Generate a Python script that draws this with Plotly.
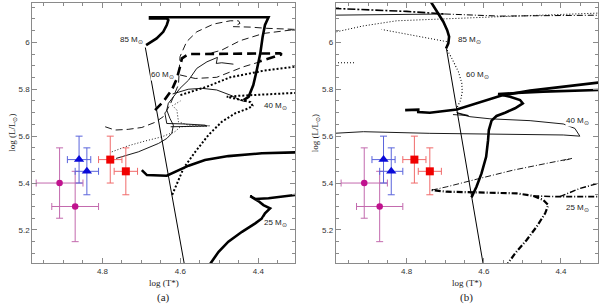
import plotly.graph_objects as go

# ---------------- observed stars ----------------
circ_T = [4.91, 4.87]
circ_L = [5.40, 5.30]
circ_dT = [0.06, 0.06]
circ_dL = [0.15, 0.15]

tri_T = [4.86, 4.84]
tri_L = [5.50, 5.45]
tri_dT = [0.03, 0.03]
tri_dL = [0.10, 0.10]

sq_T = [4.78, 4.74]
sq_L = [5.50, 5.45]
sq_dT = [0.03, 0.03]
sq_dL = [0.10, 0.10]

# ---------------- panel (a) tracks ----------------
a_zams_T = [4.690, 4.583]
a_zams_L = [5.978, 4.990]

a85_T = [4.688, 4.661, 4.644, 4.635, 4.631, 4.635, 4.678, 4.678, 4.374, 4.383, 4.389, 4.395, 4.404, 4.413, 4.425, 4.438]
a85_L = [5.988, 6.017, 6.045, 6.074, 6.095, 6.102, 6.102, 6.107, 6.107, 6.074, 6.024, 5.953, 5.882, 5.818, 5.768, 5.754]

a60_T = [4.665, 4.644, 4.622, 4.609, 4.601, 4.596, 4.579, 4.344, 4.340, 4.378, 4.400]
a60_L = [5.711, 5.747, 5.797, 5.846, 5.896, 5.932, 5.950, 5.953, 5.949, 5.927, 5.917]

a40_T = [4.621, 4.592, 4.562, 4.528, 4.494, 4.460, 4.425, 4.415, 4.420, 4.434, 4.464, 4.481, 4.450, 4.400, 4.350, 4.300]
a40_L = [5.350, 5.463, 5.533, 5.605, 5.661, 5.697, 5.719, 5.730, 5.745, 5.750, 5.761, 5.768, 5.772, 5.777, 5.782, 5.785]

a40b_T = [4.600, 4.558, 4.532, 4.472, 4.387, 4.300]
a40b_L = [5.775, 5.797, 5.811, 5.851, 5.879, 5.897]

a25_T = [4.699, 4.686, 4.635, 4.614, 4.579, 4.537, 4.477, 4.391, 4.300]
a25_L = [5.455, 5.434, 5.431, 5.446, 5.474, 5.498, 5.515, 5.527, 5.531]

a25b_T = [4.530, 4.502, 4.477, 4.442, 4.408, 4.391, 4.383, 4.370, 4.387, 4.400, 4.421, 4.408, 4.374, 4.300]
a25b_L = [5.040, 5.107, 5.150, 5.192, 5.228, 5.249, 5.271, 5.292, 5.306, 5.323, 5.344, 5.332, 5.335, 5.350]

a_dash1_T = [4.793, 4.768, 4.734, 4.699, 4.665, 4.644, 4.625, 4.605, 4.601, 4.584, 4.558, 4.515, 4.472, 4.451, 4.447, 4.464, 4.420, 4.380, 4.300]
a_dash1_L = [5.640, 5.626, 5.629, 5.637, 5.659, 5.683, 5.740, 5.820, 5.939, 6.003, 6.045, 6.078, 6.092, 6.092, 6.081, 6.067, 6.065, 6.060, 6.055]

a_dash2_T = [4.520, 4.494, 4.447, 4.387, 4.300]
a_dash2_L = [5.955, 5.967, 6.007, 6.038, 6.056]

a_dash3_T = [4.601, 4.562, 4.507, 4.472, 4.438, 4.400]
a_dash3_L = [5.861, 5.846, 5.851, 5.875, 5.896, 5.915]

a_thin1_T = [4.765, 4.708, 4.656, 4.635, 4.622, 4.618, 4.627, 4.635, 4.631, 4.601, 4.579, 4.558, 4.532, 4.511, 4.505, 4.508, 4.494, 4.464]
a_thin1_L = [5.505, 5.533, 5.569, 5.590, 5.612, 5.647, 5.676, 5.711, 5.740, 5.804, 5.839, 5.889, 5.917, 5.932, 5.936, 5.910, 5.913, 5.907]

a_thin2_T = [4.620, 4.580, 4.545, 4.507, 4.472, 4.447, 4.434]
a_thin2_L = [5.780, 5.800, 5.804, 5.797, 5.775, 5.754, 5.747]

a_thin3_T = [4.640, 4.635, 4.590, 4.537, 4.532, 4.580, 4.625]
a_thin3_L = [5.700, 5.654, 5.652, 5.647, 5.643, 5.640, 5.640]

a_dot1_T = [4.776, 4.734, 4.691, 4.648, 4.614, 4.600, 4.524, 4.580, 4.605, 4.609, 4.620, 4.600]
a_dot1_L = [5.533, 5.559, 5.579, 5.597, 5.619, 5.640, 5.644, 5.647, 5.661, 5.711, 5.730, 5.750]

# ---------------- panel (b) tracks ----------------
b_zams_T = [4.697, 4.595]
b_zams_L = [5.974, 4.990]

b85_T = [4.698, 4.692, 4.690, 4.695, 4.705, 4.718, 4.731, 4.740]
b85_L = [5.974, 5.996, 6.024, 6.052, 6.088, 6.124, 6.155, 6.180]

b60_T = [4.695, 4.683, 4.666, 4.657, 4.656, 4.660, 4.670]
b60_L = [5.967, 5.932, 5.875, 5.825, 5.789, 5.754, 5.719]

b_topdot_T = [4.982, 4.913, 4.826, 4.696, 4.567, 4.300]
b_topdot_L = [6.045, 6.070, 6.092, 6.102, 6.109, 6.125]

b_vdot_T = [4.696, 4.780, 4.865]
b_vdot_L = [6.003, 6.030, 6.055]

b_topdd_T = [4.990, 4.900, 4.800, 4.701]
b_topdd_L = [6.145, 6.140, 6.132, 6.121]

b_topsolid_T = [4.990, 4.850, 4.701]
b_topsolid_L = [6.116, 6.118, 6.121]

b_topdd2_T = [4.701, 4.558, 4.300]
b_topdd2_L = [6.121, 6.112, 6.116]

b_shortdot_T = [4.978, 4.935]
b_shortdot_L = [5.913, 5.913]

b40_T = [4.632, 4.619, 4.606, 4.594, 4.589, 4.587, 4.580, 4.567, 4.545, 4.519, 4.499, 4.506, 4.532, 4.563, 4.515, 4.446, 4.300]
b40_L = [5.339, 5.384, 5.441, 5.512, 5.583, 5.626, 5.666, 5.686, 5.700, 5.719, 5.740, 5.754, 5.768, 5.780, 5.784, 5.790, 5.797]

b40u_T = [4.804, 4.770, 4.770, 4.740, 4.670, 4.593, 4.550, 4.480, 4.394, 4.300]
b40u_L = [5.711, 5.713, 5.703, 5.700, 5.714, 5.754, 5.775, 5.794, 5.811, 5.829]

b40thin_T = [4.990, 4.912, 4.740, 4.567, 4.394, 4.351, 4.364, 4.394, 4.480, 4.584, 4.636, 4.653, 4.670, 4.640, 4.680]
b40thin_L = [5.612, 5.619, 5.612, 5.609, 5.605, 5.600, 5.633, 5.652, 5.666, 5.674, 5.683, 5.690, 5.700, 5.688, 5.692]

b25_T = [4.545, 4.519, 4.489, 4.463, 4.441, 4.433, 4.446, 4.472, 4.515, 4.610, 4.696, 4.735]
b25_L = [5.040, 5.100, 5.157, 5.214, 5.271, 5.306, 5.328, 5.345, 5.356, 5.359, 5.363, 5.370]

b25thin_T = [4.735, 4.696, 4.610, 4.524, 4.437, 4.372, 4.394]
b25thin_L = [5.370, 5.384, 5.420, 5.455, 5.484, 5.505, 5.495]

b25r_T = [4.472, 4.410, 4.300]
b25r_L = [5.345, 5.342, 5.342]

b25r2_T = [4.403, 4.351, 4.300]
b25r2_L = [5.342, 5.377, 5.400]

# mass labels
a_lab_T = [4.726, 4.647, 4.357, 4.357]
a_lab_L = [6.010, 5.861, 5.728, 5.229]
b_lab_T = [4.636, 4.616, 4.356, 4.356]
b_lab_L = [6.010, 5.860, 5.666, 5.292]
lab_txt = ["85 M<sub>⊙</sub>", "60 M<sub>⊙</sub>", "40 M<sub>⊙</sub>", "25 M<sub>⊙</sub>"]

y_ticks = [5.2, 5.4, 5.6, 5.8, 6.0]
y_ticktext = ["5.2", "5.4", "5.6", "5.8", "6"]
x_ticks = [4.8, 4.6, 4.4]
x_ticktext = ["4.8", "4.6", "4.4"]

fig = go.Figure()

THICK = 2.6
THIN = 0.9


def line(ax, T, L, w, dash="solid"):
    xa, ya = ("x", "y") if ax == "a" else ("x2", "y2")
    fig.add_trace(go.Scatter(x=T, y=L, mode="lines", xaxis=xa, yaxis=ya,
                             line=dict(color="black", width=w, dash=dash),
                             hoverinfo="skip", showlegend=False))


# panel a
line("a", a_zams_T, a_zams_L, 1.0)
line("a", a85_T, a85_L, THICK)
line("a", a60_T, a60_L, THICK, "9px,5px")
line("a", a40_T, a40_L, 2.0, "2px,2px")
line("a", a40b_T, a40b_L, 2.0, "2px,2px")
line("a", a25_T, a25_L, THICK)
line("a", a25b_T, a25b_L, THICK)
line("a", a_dash1_T, a_dash1_L, THIN, "7px,4px")
line("a", a_dash2_T, a_dash2_L, THIN, "7px,4px")
line("a", a_dash3_T, a_dash3_L, THIN, "7px,4px")
line("a", a_thin1_T, a_thin1_L, THIN)
line("a", a_thin2_T, a_thin2_L, THIN)
line("a", a_thin3_T, a_thin3_L, THIN)
line("a", a_dot1_T, a_dot1_L, THIN, "1px,2px")

# panel b
line("b", b_zams_T, b_zams_L, 1.0)
line("b", b85_T, b85_L, THICK)
line("b", b60_T, b60_L, 1.1, "1px,2px")
line("b", b_topdot_T, b_topdot_L, 1.0, "1px,2px")
line("b", b_vdot_T, b_vdot_L, 1.0, "1px,2px")
line("b", b_topdd_T, b_topdd_L, 1.6, "8px,2px,2px,2px")
line("b", b_topsolid_T, b_topsolid_L, THIN)
line("b", b_topdd2_T, b_topdd2_L, 1.0, "6px,2px,1px,2px")
line("b", b_shortdot_T, b_shortdot_L, 1.0, "1px,2px")
line("b", b40_T, b40_L, THICK)
line("b", b40u_T, b40u_L, THICK)
line("b", b40thin_T, b40thin_L, THIN)
line("b", b25_T, b25_L, 2.2, "6px,2px,1px,2px")
line("b", b25thin_T, b25thin_L, 0.9, "6px,2px,1px,2px")
line("b", b25r_T, b25r_L, 1.6, "6px,2px,1px,2px")
line("b", b25r2_T, b25r2_L, 1.4, "6px,2px,1px,2px")


def obs(ax, T, L, dT, dL, sym, size, col, ecol):
    xa, ya = ("x", "y") if ax == "a" else ("x2", "y2")
    fig.add_trace(go.Scatter(
        x=T, y=L, mode="markers", xaxis=xa, yaxis=ya,
        marker=dict(symbol=sym, size=size, color=col, line=dict(width=0)),
        error_x=dict(type="data", array=dT, color=ecol, thickness=1, width=3.5),
        error_y=dict(type="data", array=dL, color=ecol, thickness=1, width=3.5),
        hoverinfo="skip", showlegend=False, cliponaxis=False))


for ax in ("a", "b"):
    obs(ax, circ_T, circ_L, circ_dT, circ_dL, "circle", 6.5, "#c0128e", "#c36aae")
    obs(ax, tri_T, tri_L, tri_dT, tri_dL, "triangle-up", 9, "#0a0ad8", "#5a64dc")
    obs(ax, sq_T, sq_L, sq_dT, sq_dL, "square", 8, "#f00000", "#f06a6a")

LABFONT = dict(family="Liberation Sans", size=8, color="#222")
ann = []
for T, L, t in zip(a_lab_T, a_lab_L, lab_txt):
    ann.append(dict(x=T, y=L, xref="x", yref="y", text=t, showarrow=False,
                    xanchor="center", yanchor="middle",
                    font=LABFONT, bgcolor="white", borderpad=0))
for T, L, t in zip(b_lab_T, b_lab_L, lab_txt):
    ann.append(dict(x=T, y=L, xref="x2", yref="y2", text=t, showarrow=False,
                    xanchor="center", yanchor="middle",
                    font=LABFONT, bgcolor="white", borderpad=0))

W, H = 600, 307
ax_a = (32.3, 295.0)
ax_b = (335.7, 598.0)
top_px, bot_px = 2.5, 263.0

for (x0, x1), lab in ((ax_a, "(a)"), (ax_b, "(b)")):
    xc = (x0 + x1) / 2 / W
    ann.append(dict(x=xc, y=1 - 282.5 / H, xref="paper", yref="paper", text="log (T*)",
                    showarrow=False, xanchor="center", yanchor="middle",
                    font=dict(family="Liberation Serif", size=9, color="#222")))
    ann.append(dict(x=xc, y=1 - 297 / H, xref="paper", yref="paper", text=lab,
                    showarrow=False, xanchor="center", yanchor="middle",
                    font=dict(family="Liberation Serif", size=11, color="#222")))
    ann.append(dict(x=(x0 - 20.5) / W, y=1 - 133 / H, xref="paper", yref="paper",
                    text="log (L/L<sub>⊙</sub>)", textangle=-90, showarrow=False,
                    xanchor="center", yanchor="middle",
                    font=dict(family="Liberation Serif", size=9, color="#222")))

common = dict(showline=True, linecolor="#8a8a8a", linewidth=1, mirror="ticks",
              ticks="inside", ticklen=5, tickwidth=1, tickcolor="#8a8a8a",
              showgrid=False, zeroline=False, automargin=False,
              tickfont=dict(family="Liberation Sans", size=8, color="#333"),
              minor=dict(ticks="inside", ticklen=3, dtick=0.05, tick0=0,
                         tickcolor="#8a8a8a", tickwidth=1, showgrid=False))

ydom = [1 - bot_px / H, 1 - top_px / H]
yrange = [5.059, 6.170]

fig.update_layout(
    width=W, height=H, margin=dict(l=0, r=0, t=0, b=0),
    paper_bgcolor="white", plot_bgcolor="white", template="none",
    showlegend=False,
    xaxis=dict(domain=[ax_a[0] / W, ax_a[1] / W], range=[4.980, 4.306], anchor="y",
               tickmode="array", tickvals=x_ticks, ticktext=x_ticktext, **common),
    yaxis=dict(domain=ydom, range=yrange, anchor="x",
               tickmode="array", tickvals=y_ticks, ticktext=y_ticktext, **common),
    xaxis2=dict(domain=[ax_b[0] / W, ax_b[1] / W], range=[4.984, 4.304], anchor="y2",
                tickmode="array", tickvals=x_ticks, ticktext=x_ticktext, **common),
    yaxis2=dict(domain=ydom, range=yrange, anchor="x2",
                tickmode="array", tickvals=y_ticks, ticktext=y_ticktext, **common),
    annotations=ann,
)

fig.write_html("out.html", config={"displayModeBar": False},
               post_script="document.body.style.margin='0';document.body.style.padding='0';")
